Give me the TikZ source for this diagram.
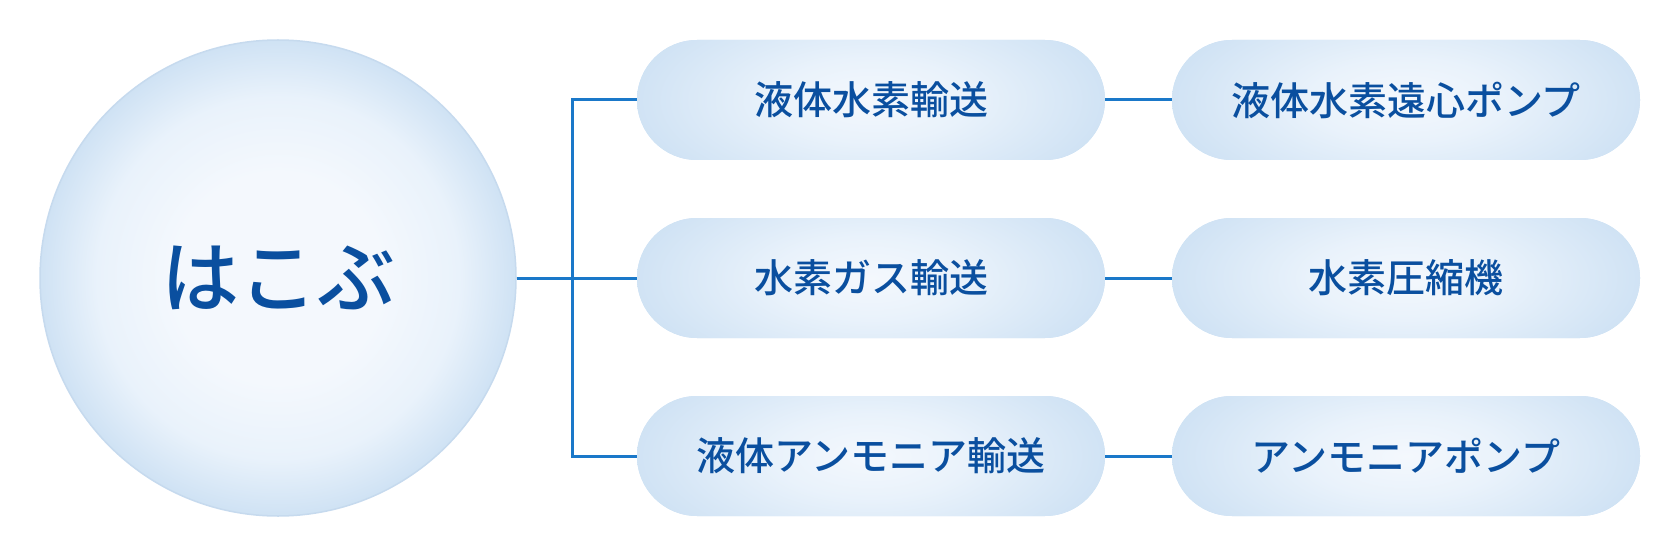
\documentclass[tikz,border=0pt]{standalone}
\usepackage{fontspec}
\newfontfamily\jpfont{Noto Sans CJK JP Medium}
\usepackage{tikz}
\usetikzlibrary{shapes.misc}
\definecolor{inkblue}{HTML}{0A4F9F}
\definecolor{linkblue}{HTML}{1A78C9}
\definecolor{bubbleout}{HTML}{CFE2F4}
\definecolor{bubblemid}{HTML}{E9F2FB}
\definecolor{bubblein}{HTML}{F4F8FD}
\definecolor{bubbleedge}{HTML}{C6DAEE}
\pgfdeclareradialshading{bubble}{\pgfpoint{0bp}{0bp}}{color(0bp)=(bubblein); color(11bp)=(bubblein); color(19bp)=(bubblemid); color(25bp)=(bubbleout); color(50bp)=(bubbleout)}
\pgfdeclareradialshading{capsule}{\pgfpoint{0bp}{0bp}}{color(0bp)=(bubblein); color(10bp)=(bubblemid); color(25bp)=(bubbleout); color(50bp)=(bubbleout)}

\begin{document}
\begin{tikzpicture}[x=1pt, y=-1pt,
    hub/.style={circle, minimum size=476pt, inner sep=0pt, shading=bubble, draw=bubbleedge, line width=1.5pt,
        font=\jpfont\fontsize{78}{90}\selectfont, text=inkblue},
    pill/.style={rectangle, rounded corners=60pt, minimum width=468pt, minimum height=120pt, inner sep=0pt,
        fill=bubbleout, path picture={\shade [shading=capsule] (path picture bounding box.center)
            ellipse [x radius=242pt, y radius=105pt];},
        font=\jpfont\fontsize{39}{46}\selectfont, text=inkblue},
    link/.style={linkblue, line width=3pt}]
    \useasboundingbox (0, 0) rectangle (1680, 556);
    \node [hub] (hub) at (278, 278) {はこぶ};
    % first column
    \node [pill] (liqh) at (871, 100) {液体水素輸送};
    \node [pill] (gash) at (871, 278) {水素ガス輸送};
    \node [pill] (liqa) at (871, 456) {液体アンモニア輸送};
    % second column
    \node [pill] (pumph) at (1406, 100) {液体水素遠心ポンプ};
    \node [pill] (comph) at (1406, 278) {水素圧縮機};
    \node [pill] (pumpa) at (1406, 456) {アンモニアポンプ};
    \coordinate (fork) at (572, 278);
    \draw [link] (hub.east) -- (gash.west);
    \draw [link] (liqh.west) -| (fork) |- (liqa.west);
    \draw [link] (liqh.east) -- (pumph.west);
    \draw [link] (gash.east) -- (comph.west);
    \draw [link] (liqa.east) -- (pumpa.west);
\end{tikzpicture}
\end{document}
